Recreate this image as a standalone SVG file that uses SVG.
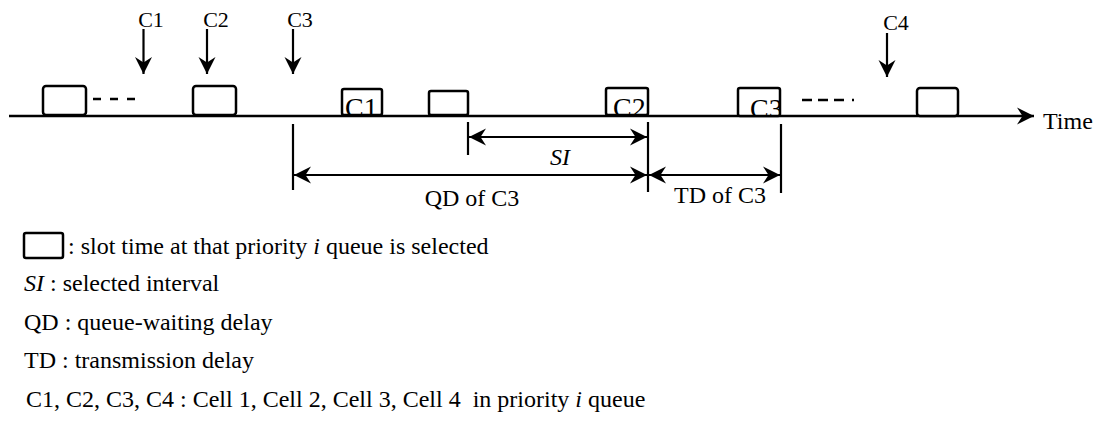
<svg xmlns="http://www.w3.org/2000/svg" width="1104" height="424" viewBox="0 0 1104 424">
  <style>
    text { font-family: "Liberation Serif", "Times New Roman", serif; fill: #000; }
    .lbl { font-size: 22px; }
    .dim { font-size: 24px; }
    .box-lbl { font-size: 28px; }
    .leg { font-size: 24px; }
    .slot { fill: #fff; stroke: #000; stroke-width: 2.5; }
    .axis { stroke: #000; stroke-width: 2.5; fill: none; }
    .arr { stroke: #000; stroke-width: 2.2; fill: none; }
    .tick { stroke: #000; stroke-width: 2.2; fill: none; }
    .dash { stroke: #000; stroke-width: 2.5; fill: none; }
  </style>
  <defs>
    <marker id="barb" viewBox="-18 -10 20 20" refX="0" refY="0" markerWidth="20" markerHeight="20" markerUnits="userSpaceOnUse" orient="auto-start-reverse">
      <path d="M0,0 L-17,-8.5 L-11.5,0 L-17,8.5 Z" fill="#000"/>
    </marker>
    <clipPath id="clip-c1"><rect x="343" y="90" width="38" height="24"/></clipPath>
    <clipPath id="clip-c2"><rect x="607" y="89" width="40" height="25"/></clipPath>
    <clipPath id="clip-c3"><rect x="739" y="89" width="40" height="26"/></clipPath>
  </defs>

  <rect width="1104" height="424" fill="#fff"/>

  <!-- time axis -->
  <g id="time-axis">
    <line class="axis" x1="9" y1="116" x2="1034" y2="116" marker-end="url(#barb)"/>
    <text class="dim" x="1043" y="129">Time</text>
  </g>

  <!-- selected slots on the axis -->
  <g id="slot-1"><rect class="slot" x="43" y="86" width="43" height="29" rx="3"/></g>
  <g id="gap-1"><line class="dash" x1="93" y1="99" x2="137" y2="99" stroke-dasharray="8 9"/></g>
  <g id="slot-2"><rect class="slot" x="193" y="86" width="43" height="29" rx="3"/></g>
  <g id="slot-c1">
    <rect class="slot" x="342" y="89" width="40" height="26" rx="2"/>
    <text class="box-lbl" x="345" y="117" clip-path="url(#clip-c1)">C1</text>
  </g>
  <g id="slot-3"><rect class="slot" x="429" y="91" width="39" height="24" rx="2"/></g>
  <g id="slot-c2">
    <rect class="slot" x="606" y="88" width="42" height="27" rx="2"/>
    <text class="box-lbl" x="613" y="117" clip-path="url(#clip-c2)">C2</text>
  </g>
  <g id="slot-c3">
    <rect class="slot" x="738" y="88" width="42" height="28" rx="2"/>
    <text class="box-lbl" x="750" y="118" clip-path="url(#clip-c3)">C3</text>
  </g>
  <g id="gap-2"><line class="dash" x1="802" y1="100" x2="856" y2="100" stroke-dasharray="10 6 10 6 10 8 2 100"/></g>
  <g id="slot-4"><rect class="slot" x="917" y="88" width="41" height="28" rx="3"/></g>

  <!-- cell arrivals -->
  <g id="arrival-c1">
    <text class="lbl" x="151" y="27" text-anchor="middle">C1</text>
    <line class="arr" x1="143.5" y1="29" x2="143.5" y2="74" marker-end="url(#barb)"/>
  </g>
  <g id="arrival-c2">
    <text class="lbl" x="216" y="27" text-anchor="middle">C2</text>
    <line class="arr" x1="207" y1="29" x2="207" y2="74" marker-end="url(#barb)"/>
  </g>
  <g id="arrival-c3">
    <text class="lbl" x="300" y="27" text-anchor="middle">C3</text>
    <line class="arr" x1="293" y1="29" x2="293" y2="74" marker-end="url(#barb)"/>
  </g>
  <g id="arrival-c4">
    <text class="lbl" x="896" y="30" text-anchor="middle">C4</text>
    <line class="arr" x1="887" y1="33" x2="887" y2="77" marker-end="url(#barb)"/>
  </g>

  <!-- interval dimensions -->
  <g id="connectors">
    <line class="tick" x1="293" y1="124" x2="293" y2="190"/>
    <line class="tick" x1="468" y1="122" x2="468" y2="155"/>
    <line class="tick" x1="648" y1="122" x2="648" y2="192"/>
    <line class="tick" x1="781" y1="124" x2="781" y2="193"/>
    <line class="arr" x1="469" y1="137" x2="647" y2="137" marker-start="url(#barb)" marker-end="url(#barb)"/>
    <line class="arr" x1="294" y1="175" x2="647" y2="175" marker-start="url(#barb)" marker-end="url(#barb)"/>
    <line class="arr" x1="649" y1="175" x2="780" y2="175" marker-start="url(#barb)" marker-end="url(#barb)"/>
  </g>
  <g id="dim-labels">
    <text class="dim" x="560" y="165" text-anchor="middle" font-style="italic">SI</text>
    <text class="dim" x="472" y="206" text-anchor="middle">QD of C3</text>
    <text class="dim" x="720" y="203" text-anchor="middle">TD of C3</text>
  </g>

  <!-- legend -->
  <g id="legend">
    <rect class="slot" x="24" y="233" width="39" height="25" rx="2"/>
    <text class="leg" x="68" y="254">: slot time at that priority <tspan font-style="italic">i</tspan> queue is selected</text>
    <text class="leg" x="24" y="291"><tspan font-style="italic">SI</tspan> : selected interval</text>
    <text class="leg" x="24" y="330">QD : queue-waiting delay</text>
    <text class="leg" x="24" y="368">TD : transmission delay</text>
    <text class="leg" x="26" y="407" xml:space="preserve">C1, C2, C3, C4 : Cell 1, Cell 2, Cell 3, Cell 4  in priority <tspan font-style="italic">i</tspan> queue</text>
  </g>
</svg>
